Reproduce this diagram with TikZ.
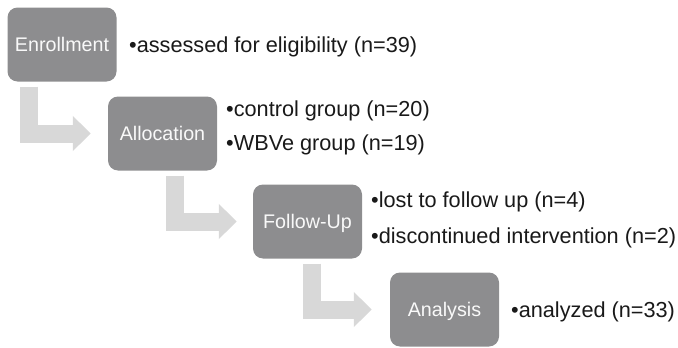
\documentclass[tikz,border=0pt]{standalone}
\usepackage{fontspec}
\setmainfont{Liberation Sans}
\usetikzlibrary{arrows.meta,calc}
\definecolor{boxgray}{RGB}{141,141,143}
\definecolor{arrgray}{RGB}{216,216,216}
\definecolor{txtdark}{RGB}{25,25,25}
\tikzset{
  stagebox/.style={rectangle, rounded corners=10pt, fill=boxgray, text=white!95!gray,
    minimum width=109pt, minimum height=74pt, inner sep=0pt,
    font=\fontsize{19.7pt}{22pt}\selectfont, text height=14.1pt, text depth=0pt},
  sidetext/.style={anchor=base west, inner sep=0pt, text=txtdark,
    font=\fontsize{21.7pt}{24pt}\selectfont},
  blockarrow/.style={draw=arrgray, line width=18pt, line cap=butt, line join=miter,
    -{Triangle[length=18pt,width=34pt]}}
}
\begin{document}
\begin{tikzpicture}[x=1pt,y=-1pt]
\useasboundingbox (0,0) rectangle (678,348);
\node[stagebox] (enr) at (62,44.5) {Enrollment};
\node[stagebox] (alloc) at (162.5,133.5) {Allocation};
\node[stagebox] (fu) at (307.5,221.5) {Follow-Up};
\node[stagebox] (an) at (444.5,309.5) {Analysis};

\coordinate (s1) at ($(enr.south west)+(22,5)$);
\coordinate (e1) at ($(alloc.west)+(-17,0)$);
\coordinate (s2) at ($(alloc.south west)+(67,5)$);
\coordinate (e2) at ($(fu.west)+(-16,0)$);
\coordinate (s3) at ($(fu.south west)+(59,5)$);
\coordinate (e3) at ($(an.west)+(-18,0)$);
\draw[blockarrow] (s1) |- (e1);
\draw[blockarrow] (s2) |- (e2);
\draw[blockarrow] (s3) |- (e3);

\node[sidetext] (t1) at (129,52) {•assessed for eligibility (n=39)};
\node[sidetext] (t2) at (226,116) {•control group (n=20)};
\node[sidetext] (t3) at (226,150) {•WBVe group (n=19)};
\node[sidetext] (t4) at (371,207.5) {•lost to follow up (n=4)};
\node[sidetext] (t5) at (371,243) {•discontinued intervention (n=2)};
\node[sidetext] (t6) at (511,317) {•analyzed (n=33)};
\end{tikzpicture}
\end{document}
